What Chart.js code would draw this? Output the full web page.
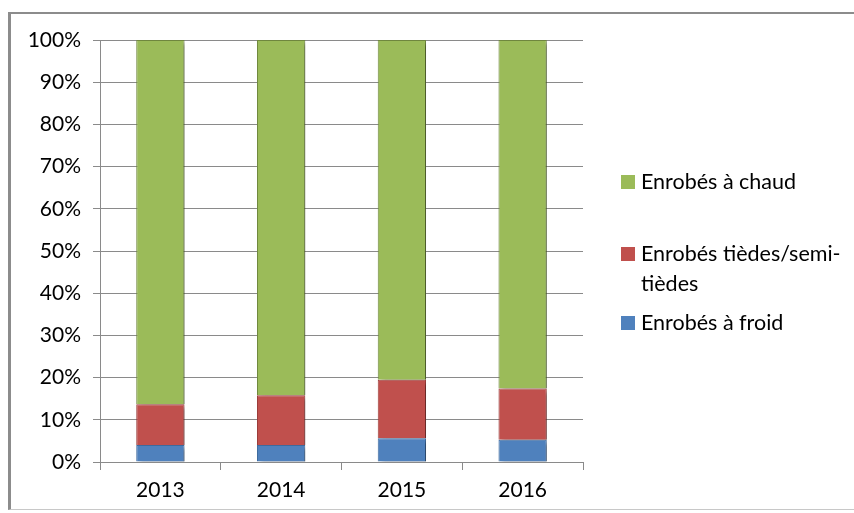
<!DOCTYPE html>
<html>
<head>
<meta charset="utf-8">
<script src="https://cdn.jsdelivr.net/npm/chart.js@4.4.0/dist/chart.umd.min.js"></script>
<style>
  html, body { margin: 0; padding: 0; background: #fff; }
  #wrap { position: relative; width: 854px; height: 513px; overflow: hidden; }
  #frame { position: absolute; left: 8px; top: 12px; width: 900px; height: 498px;
           border-left: 3px solid #8c8c8c; border-top: 2px solid #8c8c8c; border-bottom: 1px solid #c8c8c8; box-sizing: border-box; }
  canvas { position: absolute; left: 0; top: 0; }
</style>
</head>
<body>
<div id="wrap">
  <div id="frame"></div>
  <canvas id="c" width="854" height="513"></canvas>
</div>
<script>
const categories = ['2013', '2014', '2015', '2016'];
const froid  = [4.0, 4.0, 5.6, 5.3];
const tiedes = [9.7, 11.8, 13.9, 12.1];
const chaud  = [86.3, 84.2, 80.5, 82.6];
const seriesLabels = ['Enrobés à froid', 'Enrobés tièdes/semi-tièdes', 'Enrobés à chaud'];
const yTicks = [0, 10, 20, 30, 40, 50, 60, 70, 80, 90, 100];

const FONT = 'Lato, "Open Sans", sans-serif';
const GRID = '#8a8a8a';

const shadowPlugin = {
  id: 'barShadow',
  beforeDatasetsDraw(chart) {
    const ctx = chart.ctx;
    ctx.save();
    ctx.shadowColor = 'rgba(0,0,0,0.35)';
    ctx.shadowBlur = 4;
    ctx.shadowOffsetX = 4;
    ctx.shadowOffsetY = 3;
  },
  afterDatasetsDraw(chart) {
    chart.ctx.restore();
  }
};

const legendPlugin = {
  id: 'sideLegend',
  afterDraw(chart) {
    const ctx = chart.ctx;
    ctx.save();
    ctx.font = '21.5px ' + FONT;
    ctx.textBaseline = 'middle';
    ctx.fillStyle = '#000';
    const boxX = 621, textX = 641, maxW = 212;
    const items = chart.data.datasets.map((d, i) => ({ d, i })).reverse();
    const startY = [182, 254, 323];
    items.forEach((it, k) => {
      const text = it.d.label;
      const lines = [];
      if (ctx.measureText(text).width <= maxW) {
        lines.push(text);
      } else {
        const hy = text.indexOf('-');
        lines.push(text.slice(0, hy + 1));
        lines.push(text.slice(hy + 1));
      }
      const y0 = startY[k];
      ctx.fillStyle = it.d.backgroundColor;
      ctx.fillRect(boxX, y0 - 7, 14, 14);
      ctx.fillStyle = '#000';
      lines.forEach((ln, j) => ctx.fillText(ln, textX, y0 + j * 30));
    });
    ctx.restore();
  }
};

new Chart(document.getElementById('c'), {
  type: 'bar',
  data: {
    labels: categories,
    datasets: [
      { label: seriesLabels[0], data: froid,  backgroundColor: '#4F81BD', borderColor: '#3f6b9f', borderWidth: 1 },
      { label: seriesLabels[1], data: tiedes, backgroundColor: '#C0504D', borderColor: '#9b3d3a', borderWidth: 1 },
      { label: seriesLabels[2], data: chaud,  backgroundColor: '#9BBB59', borderColor: '#71893F', borderWidth: 1 }
    ]
  },
  options: {
    responsive: false,
    animation: false,
    events: [],
    layout: { padding: { top: 40, right: 271, bottom: 0, left: 0 } },
    datasets: { bar: { barPercentage: 0.4, categoryPercentage: 1.0 } },
    plugins: { legend: { display: false }, tooltip: { enabled: false } },
    scales: {
      x: {
        stacked: true,
        afterFit(s) { s.height = 51; },
        grid: { drawOnChartArea: false, drawTicks: true, tickLength: 8, color: GRID, offset: true },
        border: { color: GRID, width: 1 },
        ticks: { color: '#000', font: { family: FONT, size: 21 }, padding: 8 }
      },
      y: {
        stacked: true,
        min: 0, max: 100,
        afterFit(s) { s.width = 100; },
        afterBuildTicks(s) { s.ticks = yTicks.map(v => ({ value: v })); },
        grid: { color: GRID, lineWidth: 1, tickLength: 7 },
        border: { color: GRID, width: 1 },
        ticks: { color: '#000', font: { family: FONT, size: 21 }, padding: 12, callback: v => v + '%' }
      }
    }
  },
  plugins: [shadowPlugin, legendPlugin]
});
</script>
</body>
</html>
